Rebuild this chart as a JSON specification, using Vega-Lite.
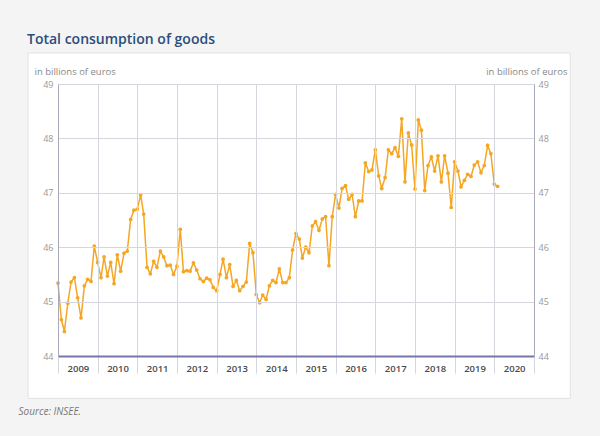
{
  "$schema": "https://vega.github.io/schema/vega-lite/v6.json",
  "width": 476,
  "height": 272,
  "autosize": "none",
  "padding": {"left": 58, "top": 84, "right": 66, "bottom": 80},
  "background": "#f4f4f4",
  "config": {
    "view": {"stroke": null},
    "font": "Open Sans",
    "axisX": {
      "labelOffset": 19.9, "labelFlush": false, "labelOverlap": false,
      "labelColor": "#4a4a4a", "labelFontSize": 9.5, "labelFontWeight": 600, "labelPadding": -10,
      "tickSize": 17, "tickColor": "#d6d6de",
      "domainColor": "#7676aa", "domainWidth": 2,
      "grid": true, "gridColor": "#d6d6de",
      "titleX": -40, "titleY": 55, "titleAlign": "left", "titleBaseline": "middle",
      "titleFontStyle": "italic", "titleFontWeight": "normal", "titleColor": "#777", "titleFontSize": 10
    }
  },
  "title": {
    "text": "Total consumption of goods",
    "anchor": "start",
    "frame": "group",
    "dx": -31,
    "offset": 5,
    "fontSize": 14,
    "fontWeight": 600,
    "color": "#2c4d7c"
  },
  "layer": [
    {
      "data": {"values": [{}]},
      "mark": {"type": "rect", "fill": "white", "stroke": "#e2e2e2", "strokeWidth": 1, "clip": false},
      "encoding": {
        "x": {"datum": {"year": 2008, "month": 4, "date": 1}, "type": "temporal",
              "scale": {"domain": [{"year": 2009, "month": 1, "date": 1}, {"year": 2021, "month": 1, "date": 1}]},
              "axis": {
                "title": "Source: INSEE.",
                "zindex": 1,
                "values": [
                  {"year": 2009, "month": 1, "date": 1}, {"year": 2010, "month": 1, "date": 1}, {"year": 2011, "month": 1, "date": 1},
                  {"year": 2012, "month": 1, "date": 1}, {"year": 2013, "month": 1, "date": 1}, {"year": 2014, "month": 1, "date": 1},
                  {"year": 2015, "month": 1, "date": 1}, {"year": 2016, "month": 1, "date": 1}, {"year": 2017, "month": 1, "date": 1},
                  {"year": 2018, "month": 1, "date": 1}, {"year": 2019, "month": 1, "date": 1}, {"year": 2020, "month": 1, "date": 1},
                  {"year": 2021, "month": 1, "date": 1}
                ],
                "labelExpr": "year(datum.value) > 2020 ? '' : timeFormat(datum.value, '%Y')"
              }},
        "x2": {"datum": {"year": 2021, "month": 12, "date": 1}},
        "y": {"datum": 43.22, "type": "quantitative",
              "scale": {"domain": [44, 49]},
              "axis": {
                "orient": "right", "values": [44, 45, 46, 47, 48, 49], "grid": false, "ticks": false,
                "domainColor": "#a8a8b8", "labelColor": "#999", "labelFontSize": 9, "labelPadding": 4,
                "title": "in billions of euros", "titleAngle": 0, "titleAlign": "right", "titleBaseline": "middle",
                "titleX": 33, "titleY": -13, "titleColor": "#888", "titleFontSize": 9.5, "titleFontWeight": "normal",
                "zindex": 1
              }},
        "y2": {"datum": 49.57}
      }
    },
    {
      "data": {
        "values": [
          {"date": "2009-01", "value": 45.34}, {"date": "2009-02", "value": 44.67}, {"date": "2009-03", "value": 44.45},
          {"date": "2009-04", "value": 44.97}, {"date": "2009-05", "value": 45.36}, {"date": "2009-06", "value": 45.44},
          {"date": "2009-07", "value": 45.07}, {"date": "2009-08", "value": 44.70}, {"date": "2009-09", "value": 45.29},
          {"date": "2009-10", "value": 45.41}, {"date": "2009-11", "value": 45.37}, {"date": "2009-12", "value": 46.02},
          {"date": "2010-01", "value": 45.72}, {"date": "2010-02", "value": 45.44}, {"date": "2010-03", "value": 45.82},
          {"date": "2010-04", "value": 45.47}, {"date": "2010-05", "value": 45.72}, {"date": "2010-06", "value": 45.33},
          {"date": "2010-07", "value": 45.86}, {"date": "2010-08", "value": 45.56}, {"date": "2010-09", "value": 45.89},
          {"date": "2010-10", "value": 45.93}, {"date": "2010-11", "value": 46.51}, {"date": "2010-12", "value": 46.68},
          {"date": "2011-01", "value": 46.70}, {"date": "2011-02", "value": 46.96}, {"date": "2011-03", "value": 46.61},
          {"date": "2011-04", "value": 45.63}, {"date": "2011-05", "value": 45.51}, {"date": "2011-06", "value": 45.74},
          {"date": "2011-07", "value": 45.63}, {"date": "2011-08", "value": 45.93}, {"date": "2011-09", "value": 45.82},
          {"date": "2011-10", "value": 45.66}, {"date": "2011-11", "value": 45.67}, {"date": "2011-12", "value": 45.50},
          {"date": "2012-01", "value": 45.65}, {"date": "2012-02", "value": 46.33}, {"date": "2012-03", "value": 45.55},
          {"date": "2012-04", "value": 45.57}, {"date": "2012-05", "value": 45.56}, {"date": "2012-06", "value": 45.71},
          {"date": "2012-07", "value": 45.58}, {"date": "2012-08", "value": 45.42}, {"date": "2012-09", "value": 45.37},
          {"date": "2012-10", "value": 45.43}, {"date": "2012-11", "value": 45.40}, {"date": "2012-12", "value": 45.26},
          {"date": "2013-01", "value": 45.20}, {"date": "2013-02", "value": 45.50}, {"date": "2013-03", "value": 45.78},
          {"date": "2013-04", "value": 45.44}, {"date": "2013-05", "value": 45.68}, {"date": "2013-06", "value": 45.28},
          {"date": "2013-07", "value": 45.39}, {"date": "2013-08", "value": 45.20}, {"date": "2013-09", "value": 45.28},
          {"date": "2013-10", "value": 45.36}, {"date": "2013-11", "value": 46.07}, {"date": "2013-12", "value": 45.90},
          {"date": "2014-01", "value": 45.13}, {"date": "2014-02", "value": 44.98}, {"date": "2014-03", "value": 45.12},
          {"date": "2014-04", "value": 45.04}, {"date": "2014-05", "value": 45.29}, {"date": "2014-06", "value": 45.39},
          {"date": "2014-07", "value": 45.35}, {"date": "2014-08", "value": 45.60}, {"date": "2014-09", "value": 45.35},
          {"date": "2014-10", "value": 45.35}, {"date": "2014-11", "value": 45.44}, {"date": "2014-12", "value": 45.95},
          {"date": "2015-01", "value": 46.25}, {"date": "2015-02", "value": 46.15}, {"date": "2015-03", "value": 45.80},
          {"date": "2015-04", "value": 46.00}, {"date": "2015-05", "value": 45.90}, {"date": "2015-06", "value": 46.39},
          {"date": "2015-07", "value": 46.47}, {"date": "2015-08", "value": 46.31}, {"date": "2015-09", "value": 46.52},
          {"date": "2015-10", "value": 46.56}, {"date": "2015-11", "value": 45.66}, {"date": "2015-12", "value": 46.56},
          {"date": "2016-01", "value": 46.97}, {"date": "2016-02", "value": 46.72}, {"date": "2016-03", "value": 47.08},
          {"date": "2016-04", "value": 47.13}, {"date": "2016-05", "value": 46.88}, {"date": "2016-06", "value": 46.97},
          {"date": "2016-07", "value": 46.56}, {"date": "2016-08", "value": 46.85}, {"date": "2016-09", "value": 46.85},
          {"date": "2016-10", "value": 47.55}, {"date": "2016-11", "value": 47.39}, {"date": "2016-12", "value": 47.42},
          {"date": "2017-01", "value": 47.79}, {"date": "2017-02", "value": 47.31}, {"date": "2017-03", "value": 47.08},
          {"date": "2017-04", "value": 47.28}, {"date": "2017-05", "value": 47.79}, {"date": "2017-06", "value": 47.72},
          {"date": "2017-07", "value": 47.83}, {"date": "2017-08", "value": 47.67}, {"date": "2017-09", "value": 48.36},
          {"date": "2017-10", "value": 47.20}, {"date": "2017-11", "value": 48.10}, {"date": "2017-12", "value": 47.88},
          {"date": "2018-01", "value": 47.07}, {"date": "2018-02", "value": 48.34}, {"date": "2018-03", "value": 48.15},
          {"date": "2018-04", "value": 47.04}, {"date": "2018-05", "value": 47.50}, {"date": "2018-06", "value": 47.66},
          {"date": "2018-07", "value": 47.40}, {"date": "2018-08", "value": 47.68}, {"date": "2018-09", "value": 47.20},
          {"date": "2018-10", "value": 47.68}, {"date": "2018-11", "value": 47.36}, {"date": "2018-12", "value": 46.73},
          {"date": "2019-01", "value": 47.57}, {"date": "2019-02", "value": 47.40}, {"date": "2019-03", "value": 47.11},
          {"date": "2019-04", "value": 47.23}, {"date": "2019-05", "value": 47.34}, {"date": "2019-06", "value": 47.30},
          {"date": "2019-07", "value": 47.51}, {"date": "2019-08", "value": 47.57}, {"date": "2019-09", "value": 47.37},
          {"date": "2019-10", "value": 47.50}, {"date": "2019-11", "value": 47.87}, {"date": "2019-12", "value": 47.72},
          {"date": "2020-01", "value": 47.16}, {"date": "2020-02", "value": 47.12}
        ],
        "format": {"parse": {"date": "date:'%Y-%m'"}}
      },
      "mark": {
        "type": "line", "color": "#f5a623", "strokeWidth": 1.5,
        "point": {"filled": true, "size": 14, "color": "#f5a623"}
      },
      "encoding": {
        "x": {
          "field": "date", "type": "temporal",
          "scale": {"domain": [{"year": 2009, "month": 1, "date": 1}, {"year": 2021, "month": 1, "date": 1}]},
          "axis": {
            "title": "Source: INSEE.",
            "zindex": 1,
            "values": [
              {"year": 2009, "month": 1, "date": 1}, {"year": 2010, "month": 1, "date": 1}, {"year": 2011, "month": 1, "date": 1},
              {"year": 2012, "month": 1, "date": 1}, {"year": 2013, "month": 1, "date": 1}, {"year": 2014, "month": 1, "date": 1},
              {"year": 2015, "month": 1, "date": 1}, {"year": 2016, "month": 1, "date": 1}, {"year": 2017, "month": 1, "date": 1},
              {"year": 2018, "month": 1, "date": 1}, {"year": 2019, "month": 1, "date": 1}, {"year": 2020, "month": 1, "date": 1},
              {"year": 2021, "month": 1, "date": 1}
            ],
            "labelExpr": "year(datum.value) > 2020 ? '' : timeFormat(datum.value, '%Y')"
          }
        },
        "y": {
          "field": "value", "type": "quantitative",
          "scale": {"domain": [44, 49]},
          "axis": {
            "orient": "left", "values": [44, 45, 46, 47, 48, 49], "ticks": false,
            "domainColor": "#a8a8b8", "labelColor": "#999", "labelFontSize": 9, "labelPadding": 5,
            "grid": true, "gridColor": "#d6d6de",
            "title": "in billions of euros", "titleAngle": 0, "titleAlign": "left", "titleBaseline": "middle",
            "titleX": -24, "titleY": -13, "titleColor": "#888", "titleFontSize": 9.5, "titleFontWeight": "normal",
            "zindex": 1
          }
        }
      }
    }
  ],
  "resolve": {"scale": {"y": "shared"}, "axis": {"y": "independent"}}
}
